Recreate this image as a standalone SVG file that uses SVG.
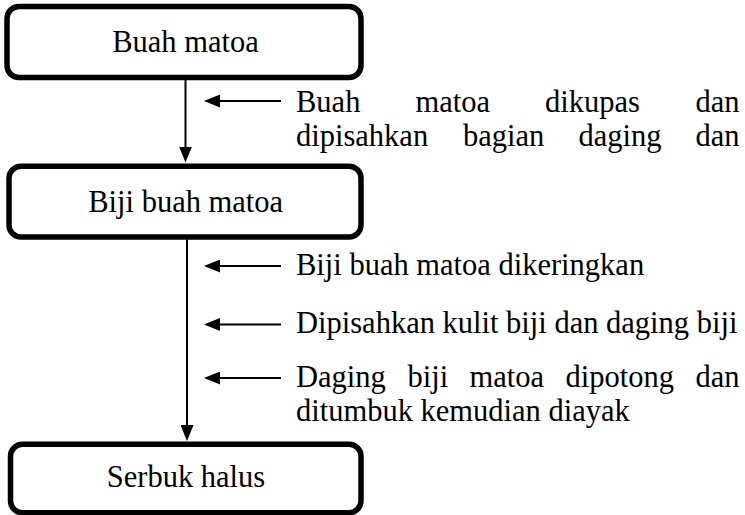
<svg xmlns="http://www.w3.org/2000/svg" width="745" height="515" viewBox="0 0 745 515">
  <style>
    .box { fill: #ffffff; stroke: #000000; stroke-width: 5.5; }
    .t { font-family: "Liberation Serif", "Times New Roman", serif; font-size: 30.5px; fill: #000000; }
    .c { text-anchor: middle; }
    .ln { stroke: #000000; stroke-width: 2; fill: none; marker-end: url(#ah); }
  </style>
  <defs>
    <marker id="ah" viewBox="0 0 16 13" refX="11" refY="6.5" markerWidth="16" markerHeight="13" markerUnits="userSpaceOnUse" orient="auto">
      <path d="M0,0 L16,6.5 L0,13 Z" fill="#000000"/>
    </marker>
  </defs>
  <rect width="745" height="515" fill="#ffffff"/>

  <g id="connectors">
    <line class="ln" x1="185.5" y1="80" x2="185.5" y2="157.5"/>
    <line class="ln" x1="187" y1="239.5" x2="187" y2="436"/>
    <line class="ln" x1="281" y1="101" x2="209" y2="101"/>
    <line class="ln" x1="281" y1="266" x2="209" y2="266"/>
    <line class="ln" x1="281" y1="324.5" x2="209" y2="324.5"/>
    <line class="ln" x1="281" y1="378" x2="209" y2="378"/>
  </g>

  <g id="node-buah-matoa">
    <rect class="box" x="7" y="6.5" width="354" height="71" rx="12"/>
    <text class="t c" x="185.5" y="52">Buah matoa</text>
  </g>
  <g id="node-biji-buah-matoa">
    <rect class="box" x="9" y="166.3" width="352" height="70.7" rx="12"/>
    <text class="t c" x="185.7" y="211.7">Biji buah matoa</text>
  </g>
  <g id="node-serbuk-halus">
    <rect class="box" x="10.5" y="444.3" width="350.5" height="68.5" rx="12"/>
    <text class="t c" x="186" y="487">Serbuk halus</text>
  </g>

  <g id="label-1">
    <text class="t" y="111.5"><tspan x="296">Buah</tspan><tspan x="415.5">matoa</tspan><tspan x="545">dikupas</tspan><tspan x="739.5" text-anchor="end">dan</tspan></text>
    <text class="t" y="145.5"><tspan x="296">dipisahkan</tspan><tspan x="463">bagian</tspan><tspan x="578.5">daging</tspan><tspan x="739.5" text-anchor="end">dan</tspan></text>
  </g>
  <g id="label-2">
    <text class="t" x="296" y="275">Biji buah matoa dikeringkan</text>
  </g>
  <g id="label-3">
    <text class="t" x="296" y="333">Dipisahkan kulit biji dan daging biji</text>
  </g>
  <g id="label-4">
    <text class="t" y="386.5"><tspan x="296">Daging</tspan><tspan x="407.5">biji</tspan><tspan x="469.5">matoa</tspan><tspan x="565.5">dipotong</tspan><tspan x="739.5" text-anchor="end">dan</tspan></text>
    <text class="t" x="296" y="420.5">ditumbuk kemudian diayak</text>
  </g>
</svg>
